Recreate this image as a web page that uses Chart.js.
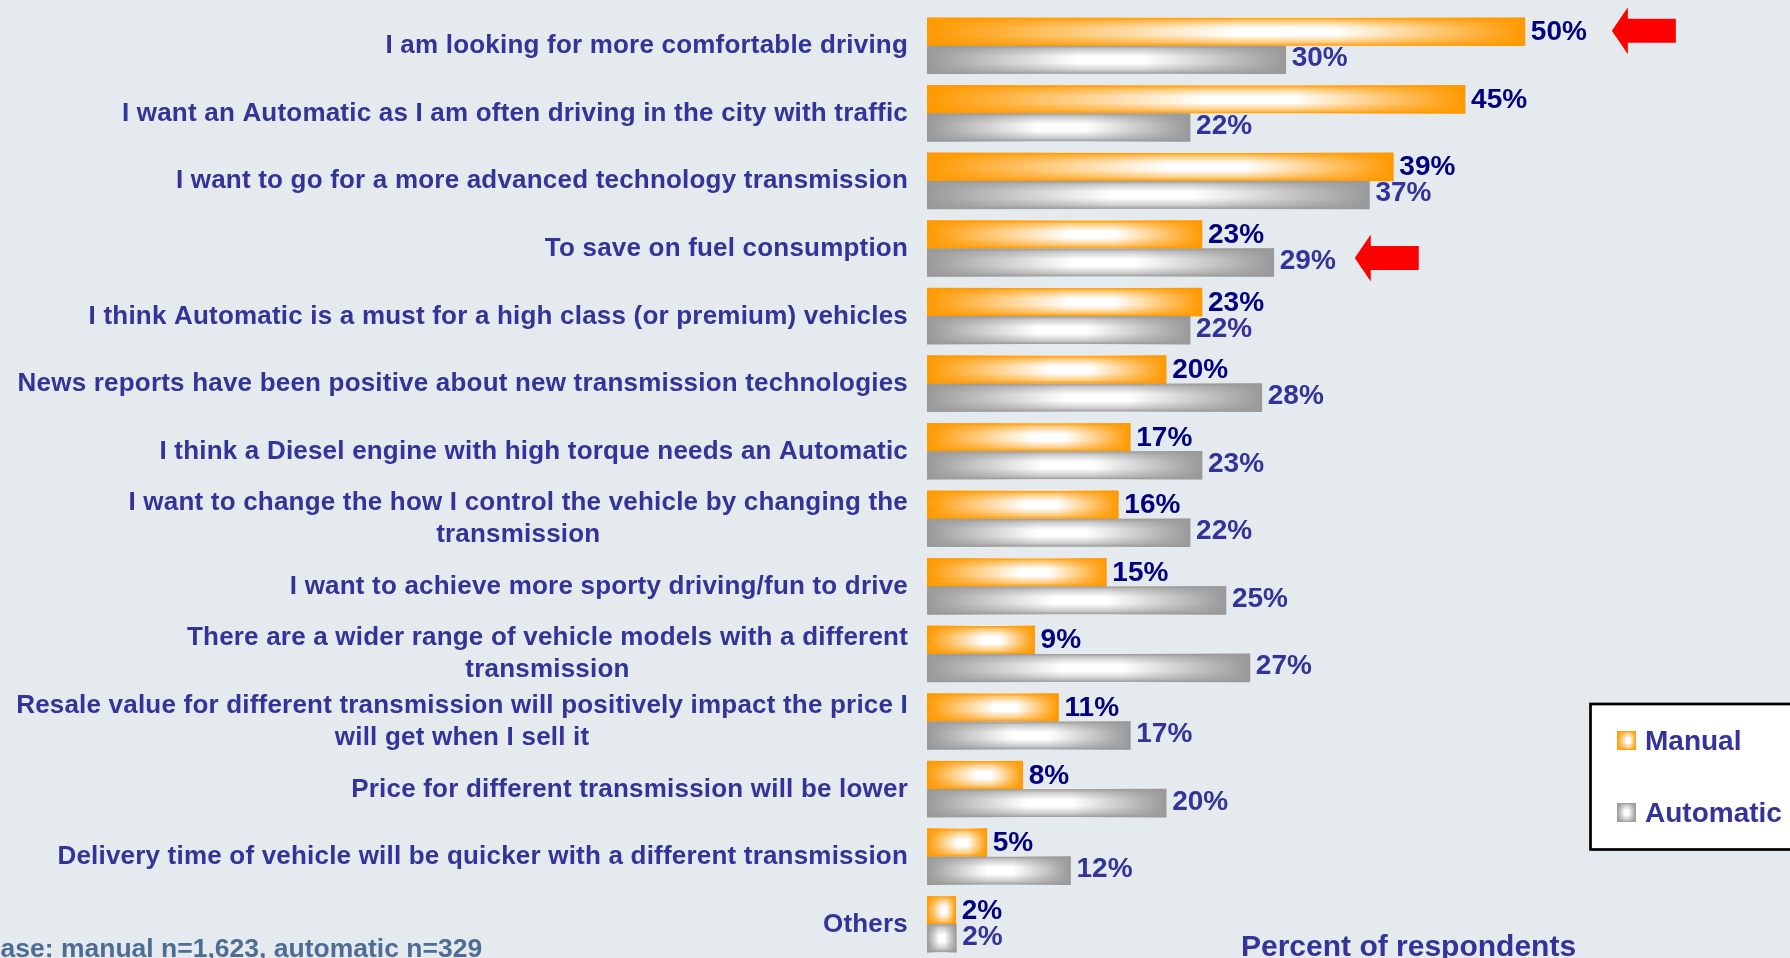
<!DOCTYPE html>
<html>
<head>
<meta charset="utf-8">
<script src="https://cdn.jsdelivr.net/npm/chart.js@4.4.0/dist/chart.umd.min.js"></script>
<style>
html,body{margin:0;padding:0;background:#e5eaef;overflow:hidden;}
#wrap{position:relative;width:1790px;height:958px;}
</style>
</head>
<body>
<div id="wrap"><canvas id="c" width="1790" height="958"></canvas></div>
<script>
const categories = [
  'I am looking for more comfortable driving',
  'I want an Automatic as I am often driving in the city with traffic',
  'I want to go for a more advanced technology transmission',
  'To save on fuel consumption',
  'I think Automatic is a must for a high class (or premium) vehicles',
  'News reports have been positive about new transmission technologies',
  'I think a Diesel engine with high torque needs an Automatic',
  ['I want to change the how I control the vehicle by changing the', 'transmission'],
  'I want to achieve more sporty driving/fun to drive',
  ['There are a wider range of vehicle models with a different', 'transmission'],
  ['Resale value for different transmission will positively impact the price I', 'will get when I sell it'],
  'Price for different transmission will be lower',
  'Delivery time of vehicle will be quicker with a different transmission',
  'Others'
];
const seriesNames = ['Manual', 'Automatic'];
const manualValues = [50, 45, 39, 23, 23, 20, 17, 16, 15, 9, 11, 8, 5, 2.4];
const automaticValues = [30, 22, 37, 29, 22, 28, 23, 22, 25, 27, 17, 20, 12, 2.45];
const highlighted = [ {category: 0, series: 0}, {category: 3, series: 1} ];
const baseNote = 'Base: manual n=1,623, automatic n=329';
const axisTitle = 'Percent of respondents';

const EDGE = ['#ff9900', '#999999'];
const EDGE_RGB = ['255,153,0', '153,153,153'];
const PEAK = [[0.52, 0.68], [0.42, 0.6]];
const LABEL_COL = ['#000080', '#333399'];
const TEXT_COL = '#333399';
const FONT = '"Liberation Sans", Arial, Helvetica, sans-serif';

function hGrad(ctx, x0, x1, s) {
  const g = ctx.createLinearGradient(x0, 0, x1, 0);
  g.addColorStop(0, EDGE[s]);
  g.addColorStop(PEAK[s][0], '#ffffff');
  g.addColorStop(PEAK[s][1], '#ffffff');
  g.addColorStop(1, EDGE[s]);
  return g;
}
function vGrad(ctx, y0, y1, s) {
  const c = EDGE_RGB[s];
  const g = ctx.createLinearGradient(0, y0, 0, y1);
  g.addColorStop(0, 'rgba(' + c + ',1)');
  g.addColorStop(0.12, 'rgba(' + c + ',0.5)');
  g.addColorStop(0.38, 'rgba(' + c + ',0)');
  g.addColorStop(0.62, 'rgba(' + c + ',0)');
  g.addColorStop(0.88, 'rgba(' + c + ',0.5)');
  g.addColorStop(1, 'rgba(' + c + ',1)');
  return g;
}

function barBg(s) {
  return function(context) {
    const chart = context.chart;
    const xs = chart.scales.x;
    if (!chart.chartArea || !xs || context.raw === undefined) return EDGE[s];
    const x0 = xs.getPixelForValue(0);
    const x1 = xs.getPixelForValue(context.raw);
    if (x1 - x0 < 1) return EDGE[s];
    return hGrad(chart.ctx, x0, x1, s);
  };
}

const decorPlugin = {
  id: 'decor',
  afterDatasetsDraw(chart) {
    const ctx = chart.ctx;
    ctx.save();
    chart.data.datasets.forEach((ds, s) => {
      const meta = chart.getDatasetMeta(s);
      meta.data.forEach((el) => {
        const top = el.y - el.height / 2, bot = el.y + el.height / 2;
        const left = Math.min(el.base, el.x), w = Math.abs(el.x - el.base);
        ctx.fillStyle = vGrad(ctx, top, bot, s);
        ctx.fillRect(left, top, w, bot - top);
      });
    });
    ctx.font = 'bold 28px ' + FONT;
    ctx.textAlign = 'left';
    ctx.textBaseline = 'alphabetic';
    chart.data.datasets.forEach((ds, s) => {
      const meta = chart.getDatasetMeta(s);
      meta.data.forEach((el, i) => {
        ctx.fillStyle = LABEL_COL[s];
        ctx.fillText(Math.round(ds.data[i]) + '%', el.x + 6, el.y + (s === 0 ? 8.5 : 6.5));
      });
    });
    const offs = [{dx: 87, dy: -1}, {dx: 81, dy: -4.5}];
    ctx.fillStyle = '#ff0000';
    highlighted.forEach((h, k) => {
      const el = chart.getDatasetMeta(h.series).data[h.category];
      const tx = el.x + offs[k].dx, ty = el.y + offs[k].dy;
      ctx.beginPath();
      ctx.moveTo(tx, ty);
      ctx.lineTo(tx + 16, ty - 23.5);
      ctx.lineTo(tx + 16, ty - 12);
      ctx.lineTo(tx + 64, ty - 12);
      ctx.lineTo(tx + 64, ty + 12);
      ctx.lineTo(tx + 16, ty + 12);
      ctx.lineTo(tx + 16, ty + 23.5);
      ctx.closePath();
      ctx.fill();
    });
    ctx.restore();
  },
  afterDraw(chart) {
    const ctx = chart.ctx;
    const ys = chart.scales.y;
    ctx.save();
    ctx.font = 'bold 26px ' + FONT;
    try { ctx.letterSpacing = '0.2px'; } catch (e) {}
    ctx.fillStyle = TEXT_COL;
    ctx.textAlign = 'center';
    ctx.textBaseline = 'alphabetic';
    const right = chart.chartArea.left - 19;
    chart.data.labels.forEach((lab, i) => {
      const lines = Array.isArray(lab) ? lab : [lab];
      const w = Math.max(...lines.map(l => ctx.measureText(l).width));
      const cx = right - w / 2;
      const cy = ys.getPixelForValue(i);
      lines.forEach((l, j) => {
        ctx.fillText(l, cx, cy + (j - (lines.length - 1) / 2) * 32 + 7.5);
      });
    });
    try { ctx.letterSpacing = '0px'; } catch (e) {}

    const lx = 1590.5, ly = 704, lw = 260, lh = 145.5;
    ctx.fillStyle = '#ffffff';
    ctx.fillRect(lx, ly, lw, lh);
    ctx.strokeStyle = '#000000';
    ctx.lineWidth = 2.7;
    ctx.strokeRect(lx, ly, lw, lh);
    ctx.font = 'bold 28px ' + FONT;
    ctx.textAlign = 'left';
    chart.data.datasets.forEach((ds, s) => {
      const sy = 731 + s * 72;
      const sx = 1617;
      ctx.fillStyle = hGrad(ctx, sx, sx + 19, s);
      ctx.fillRect(sx, sy, 19, 19);
      ctx.fillStyle = vGrad(ctx, sy, sy + 19, s);
      ctx.fillRect(sx, sy, 19, 19);
      ctx.fillStyle = TEXT_COL;
      ctx.fillText(ds.label, 1645, sy + 19);
    });

    ctx.font = 'bold 26.5px ' + FONT;
    ctx.fillStyle = '#4d6d95';
    const bw = ctx.measureText('B').width;
    ctx.fillText(baseNote, -bw + 0.5, 957);
    ctx.font = 'bold 30px ' + FONT;
    ctx.fillStyle = TEXT_COL;
    ctx.fillText(axisTitle, 1241, 956);
    ctx.restore();
  }
};

new Chart(document.getElementById('c'), {
  type: 'bar',
  data: {
    labels: categories,
    datasets: [
      { label: seriesNames[0], data: manualValues, backgroundColor: barBg(0), borderWidth: 0, barThickness: 28 },
      { label: seriesNames[1], data: automaticValues, backgroundColor: barBg(1), borderWidth: 0, barThickness: 28 }
    ]
  },
  options: {
    indexAxis: 'y',
    responsive: false,
    animation: false,
    layout: { padding: { left: 927, right: 26, top: 12, bottom: 0 } },
    scales: {
      x: { display: false, min: 0, max: 70 },
      y: { display: false }
    },
    plugins: {
      legend: { display: false },
      tooltip: { enabled: false }
    }
  },
  plugins: [decorPlugin]
});
</script>
</body>
</html>
